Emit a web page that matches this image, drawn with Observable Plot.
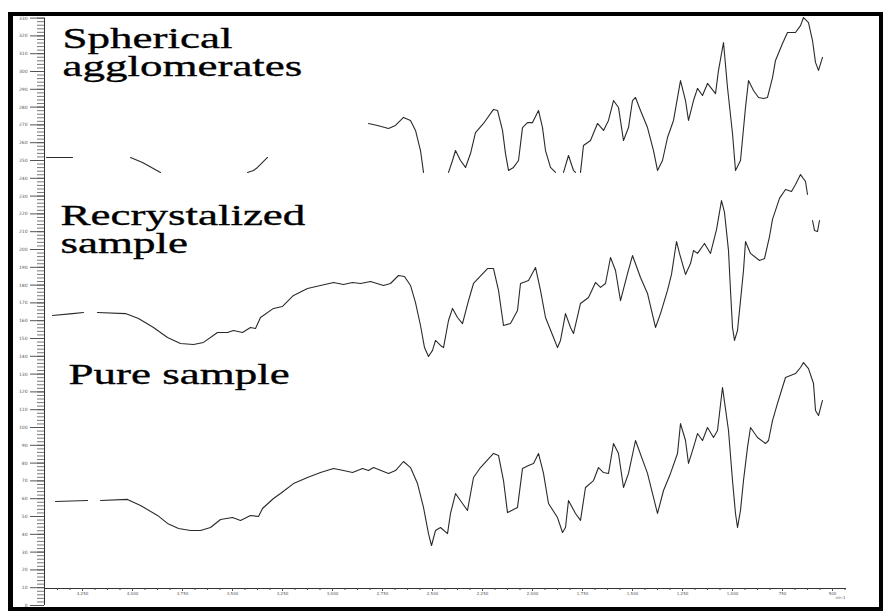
<!DOCTYPE html>
<html>
<head>
<meta charset="utf-8">
<script src="https://cdn.jsdelivr.net/npm/d3@7"></script>
<script src="https://cdn.jsdelivr.net/npm/@observablehq/plot@0.6"></script>
<style>
  html, body { margin: 0; padding: 0; background: #fff; }
  #chart { position: relative; width: 883px; height: 611px; overflow: hidden; }
  #chart .border {
    position: absolute; left: 8px; top: 12px; right: 0; bottom: 0;
    border: 4px solid #000; border-left-width: 5px; pointer-events: none;
  }
</style>
</head>
<body>
<div id="chart"><div class="border"></div></div>
<script>
// FT-IR spectra: [wavenumber (cm-1), transmittance]; a null transmittance breaks the trace.
const pureSample = [
  [4385,58.4],[4225,59.0],[4190,null],[4160,59.0],[4025,59.6],[3960,56.2],[3875,50.6],[3825,46.1],
  [3770,43.3],[3710,42.1],[3660,42.1],[3610,43.8],[3560,48.3],[3500,49.4],[3460,47.8],[3410,50.6],
  [3370,50.0],[3350,54.5],[3295,60.1],[3260,62.9],[3195,68.5],[3125,71.9],[3060,74.7],[2995,77.0],
  [2945,75.8],[2900,74.7],[2850,77.0],[2820,75.8],[2795,77.5],[2720,74.2],[2685,75.8],[2645,80.9],
  [2610,77.5],[2575,68.5],[2545,55.1],[2520,40.4],[2505,33.7],[2485,42.1],[2460,43.8],[2425,40.4],
  [2410,51.7],[2385,62.9],[2350,57.3],[2325,53.4],[2295,71.9],[2260,77.5],[2195,85.4],[2170,84.3],
  [2145,70.2],[2125,52.2],[2075,55.1],[2050,77.0],[2020,78.7],[1995,79.8],[1970,85.4],[1945,74.2],
  [1920,57.3],[1875,49.4],[1850,41.0],[1835,43.8],[1820,59.0],[1785,51.7],[1760,47.8],[1735,66.3],
  [1695,70.2],[1670,77.5],[1645,74.7],[1620,74.2],[1595,91.0],[1570,85.4],[1545,66.3],[1520,74.2],
  [1485,92.7],[1425,74.2],[1375,51.7],[1345,64.6],[1310,74.2],[1275,85.4],[1260,102.2],[1235,92.7],
  [1220,79.8],[1195,88.8],[1175,96.6],[1150,92.7],[1125,100.0],[1095,94.4],[1075,98.3],[1050,122.5],
  [1020,98.3],[1000,70.2],[985,51.7],[975,43.8],[960,53.4],[945,70.2],[925,88.8],[910,100.0],
  [875,94.4],[835,91.0],[820,92.7],[800,103.9],[775,113.5],[735,128.1],[685,130.3],[660,133.7],
  [645,136.5],[620,133.1],[595,124.7],[585,109.6],[570,106.7],[550,115.2]
];

const recrystalizedSample = [
  [4400,62.9],[4300,64.0],[4245,64.6],[4210,null],[4175,64.6],[4035,64.0],[3970,61.2],[3895,56.2],
  [3825,50.6],[3760,47.2],[3695,46.6],[3645,47.8],[3575,53.4],[3525,53.4],[3495,54.5],[3450,53.4],
  [3410,56.2],[3385,55.6],[3360,61.8],[3295,66.9],[3250,68.0],[3195,74.2],[3125,78.1],[3060,79.8],
  [2995,81.5],[2945,80.3],[2900,81.5],[2860,80.9],[2810,82.0],[2745,79.8],[2710,80.9],[2670,85.4],
  [2640,84.8],[2610,79.8],[2585,70.2],[2560,57.3],[2540,44.9],[2520,39.9],[2500,43.3],[2485,48.9],
  [2460,46.1],[2445,44.9],[2420,60.1],[2400,66.9],[2375,61.8],[2350,58.4],[2320,71.3],[2295,80.9],
  [2225,89.3],[2195,89.3],[2170,77.0],[2145,57.3],[2110,58.4],[2075,65.7],[2060,80.9],[2020,82.6],
  [1985,89.9],[1960,77.0],[1935,61.8],[1895,50.6],[1875,44.9],[1860,48.9],[1835,64.0],[1810,56.2],
  [1795,52.8],[1760,69.7],[1720,73.0],[1685,81.5],[1660,78.7],[1635,80.9],[1610,95.5],[1585,88.2],
  [1560,71.3],[1525,86.5],[1500,96.6],[1460,84.3],[1425,75.3],[1385,56.2],[1360,64.0],[1325,77.0],
  [1305,86.0],[1280,104.5],[1265,97.8],[1235,86.0],[1210,92.1],[1195,99.4],[1175,97.8],[1140,103.4],
  [1110,97.8],[1080,111.2],[1055,127.5],[1040,120.8],[1020,99.4],[1010,77.0],[1000,56.2],[990,48.9],
  [975,54.5],[960,71.3],[945,88.2],[935,104.5],[910,97.8],[865,93.8],[840,94.9],[815,107.3],
  [800,116.9],[765,128.7],[735,133.7],[705,132.6],[685,136.5],[660,142.1],[635,138.2],[625,130.9],
  [612,null],[600,116.3],[590,110.7],[575,110.1],[565,116.3]
];

const sphericalAgglomerates = [
  [4430,51.7],[4300,51.7],[4150,null],[4010,51.7],[3950,48.9],[3860,43.3],[3600,null],[3425,43.3],
  [3395,44.4],[3375,46.1],[3325,51.7],[3000,null],[2820,70.8],[2775,69.7],[2720,68.0],[2685,69.7],
  [2645,74.2],[2610,72.5],[2585,66.9],[2560,55.6],[2545,43.3],[2480,null],[2420,43.3],[2400,50.0],
  [2385,55.6],[2360,50.0],[2335,46.1],[2310,53.9],[2285,65.7],[2245,70.8],[2195,78.7],[2175,78.1],
  [2150,66.9],[2135,53.9],[2120,44.4],[2095,46.1],[2070,50.0],[2050,68.5],[2025,71.3],[2000,71.3],
  [1970,78.1],[1950,68.5],[1935,55.6],[1910,46.1],[1885,43.3],[1865,null],[1845,43.3],[1820,52.8],
  [1795,44.4],[1785,43.3],[1772,null],[1760,43.3],[1745,58.4],[1710,61.2],[1675,70.8],[1645,66.9],
  [1620,72.5],[1595,83.7],[1570,79.8],[1545,61.2],[1520,68.5],[1500,83.7],[1485,85.4],[1460,78.1],
  [1425,68.5],[1395,55.6],[1375,44.4],[1350,50.0],[1325,62.9],[1295,72.5],[1260,94.9],[1235,83.7],
  [1220,72.5],[1195,83.7],[1175,90.5],[1150,86.5],[1125,93.3],[1085,87.6],[1070,100.6],[1045,116.3],
  [1025,91.0],[1000,65.2],[985,44.4],[960,50.0],[935,79.8],[920,94.9],[895,89.3],[870,85.4],
  [845,84.8],[825,85.4],[800,96.6],[785,106.2],[750,115.7],[725,121.9],[685,121.9],[660,125.8],
  [645,130.3],[620,127.5],[600,117.4],[585,105.1],[570,100.6],[550,107.9]
];

const sampleNames = ["Pure sample", "Recrystalized sample", "Spherical agglomerates"];
const xTickLabels = [4250, 4000, 3750, 3500, 3250, 3000, 2750, 2500, 2250, 2000, 1750, 1500, 1250, 1000, 750, 500];
const yTickLabels = d3.range(0, 331, 10);

// Layout: each spectrum is lifted by its stacking offset on a shared vertical scale.
const spectra = [pureSample, recrystalizedSample, sphericalAgglomerates];
const stackOffset = [0, 100, 200];
const rows = spectra.flatMap((points, k) =>
  points.map(([wn, t]) => ({
    sample: sampleNames[k],
    wn,
    level: t == null ? null : t + stackOffset[k]
  }))
);

// Panel titles, anchored at the left end of their last baseline.
const titles = [
  {text: "Spherical\nagglomerates", wn: 4350, level: 297.2},
  {text: "Recrystalized\nsample", wn: 4360, level: 197.8},
  {text: "Pure sample", wn: 4320, level: 124.7}
];

const xDomain = [4440, 435];
const yDomain = [0, 330];

const plot = Plot.plot({
  width: 883,
  height: 611,
  marginLeft: 44,
  marginRight: 38,
  marginTop: 17,
  marginBottom: 23,
  x: {domain: xDomain},
  y: {domain: yDomain, range: [605, 17.6]},
  style: {background: "transparent", fontFamily: "'DejaVu Sans', sans-serif"},
  marks: [
    // vertical axis line and ticks
    Plot.ruleX([xDomain[0]], {y1: yDomain[0], y2: yDomain[1], stroke: "#333", strokeWidth: 1}),
    Plot.axisY(d3.range(0, 331, 2), {anchor: "left", tickSize: 7, tickFormat: () => "", label: null, color: "#777"}),
    Plot.axisY(yTickLabels, {anchor: "left", tickSize: 14, tickPadding: 3, fontSize: 4.5, label: null, color: "#555"}),
    // horizontal axis line and ticks
    Plot.frame({anchor: "bottom", stroke: "#333"}),
    Plot.axisX(d3.range(4375, 435, -62.5), {anchor: "bottom", tickSize: 2, tickFormat: () => "", label: null, color: "#444"}),
    Plot.axisX(xTickLabels, {anchor: "bottom", tickSize: 3, tickPadding: 1, fontSize: 4, label: null, color: "#555"}),
    Plot.text(["cm-1"], {frameAnchor: "bottom-right", dy: 10, textAnchor: "end", fontSize: 4, fill: "#555"}),
    // spectra
    Plot.line(rows, {x: "wn", y: "level", z: "sample", stroke: "#2a2a2a", strokeWidth: 1.1}),
    // panel titles
    Plot.text(titles, {
      x: "wn", y: "level", text: "text",
      textAnchor: "start", lineAnchor: "bottom", lineHeight: 0.95,
      fontSize: 30, fontFamily: "'Liberation Serif', 'Times New Roman', serif",
      fill: "#000", stroke: "#000", strokeWidth: 0.35
    })
  ]
});

const chart = document.getElementById("chart");
chart.insertBefore(plot, chart.firstChild);

// Widen the serif titles horizontally about their anchor point.
const titleText = new Set(titles.map(d => d.text.replace(/\n/g, "")));
plot.querySelectorAll("text").forEach(t => {
  if (!titleText.has(t.textContent)) return;
  const x = +t.getAttribute("x") || 0;
  const y = +t.getAttribute("y") || 0;
  t.removeAttribute("x");
  t.removeAttribute("y");
  const tr = t.getAttribute("transform") || "";
  t.setAttribute("transform", `${tr} translate(${x},${y}) scale(1.5,1)`);
});
</script>
</body>
</html>
